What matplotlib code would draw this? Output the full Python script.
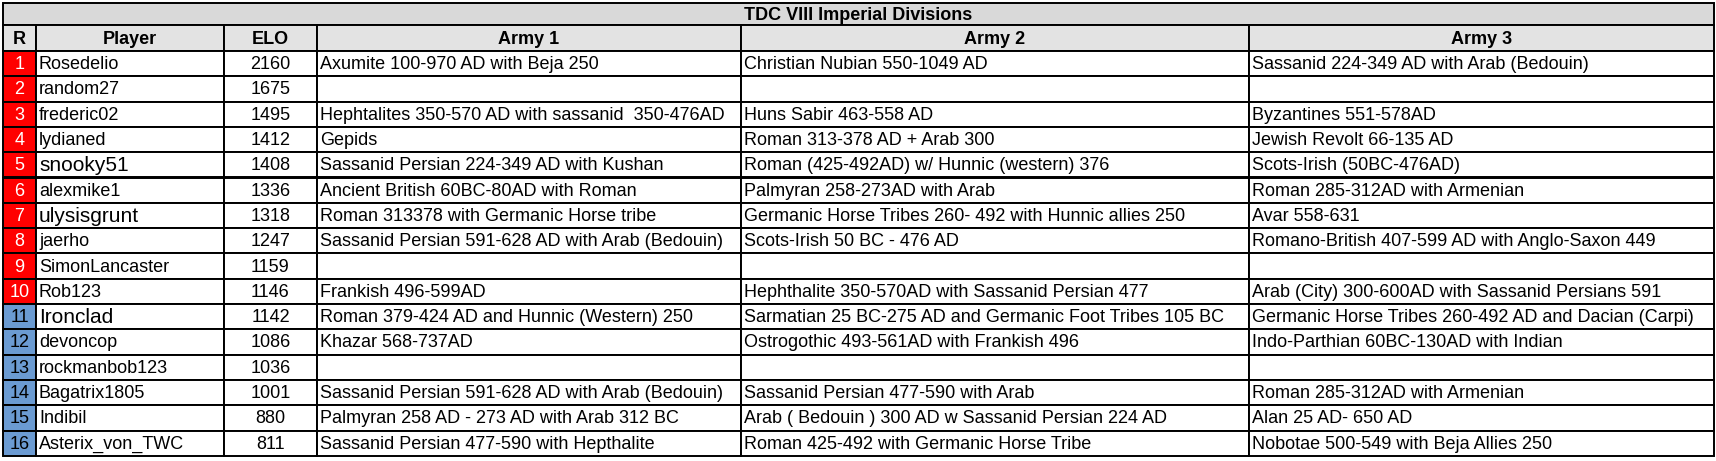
import matplotlib.pyplot as plt
from matplotlib.patches import Rectangle

plt.rcParams["font.family"] = "Liberation Sans"

title = "TDC VIII Imperial Divisions"
headers = ["R", "Player", "ELO", "Army 1", "Army 2", "Army 3"]
ranks = list(range(1, 17))
players = ["Rosedelio", "random27", "frederic02", "lydianed", "snooky51", "alexmike1",
           "ulysisgrunt", "jaerho", "SimonLancaster", "Rob123", "Ironclad", "devoncop",
           "rockmanbob123", "Bagatrix1805", "Indibil", "Asterix_von_TWC"]
elo = [2160, 1675, 1495, 1412, 1408, 1336, 1318, 1247, 1159, 1146, 1142, 1086,
       1036, 1001, 880, 811]
army1 = ["Axumite 100-970 AD with Beja 250", "",
         "Hephtalites 350-570 AD with sassanid  350-476AD", "Gepids",
         "Sassanid Persian 224-349 AD with Kushan", "Ancient British 60BC-80AD with Roman",
         "Roman 313378 with Germanic Horse tribe", "Sassanid Persian 591-628 AD with Arab (Bedouin)",
         "", "Frankish 496-599AD", "Roman 379-424 AD and Hunnic (Western) 250",
         "Khazar 568-737AD", "", "Sassanid Persian 591-628 AD with Arab (Bedouin)",
         "Palmyran 258 AD - 273 AD with Arab 312 BC", "Sassanid Persian 477-590 with Hepthalite"]
army2 = ["Christian Nubian 550-1049 AD", "", "Huns Sabir 463-558 AD", "Roman 313-378 AD + Arab 300",
         "Roman (425-492AD) w/ Hunnic (western) 376", "Palmyran 258-273AD with Arab",
         "Germanic Horse Tribes 260- 492 with Hunnic allies 250", "Scots-Irish 50 BC - 476 AD",
         "", "Hephthalite 350-570AD with Sassanid Persian 477",
         "Sarmatian 25 BC-275 AD and Germanic Foot Tribes 105 BC",
         "Ostrogothic 493-561AD with Frankish 496", "", "Sassanid Persian 477-590 with Arab",
         "Arab ( Bedouin ) 300 AD w Sassanid Persian 224 AD", "Roman 425-492 with Germanic Horse Tribe"]
army3 = ["Sassanid 224-349 AD with Arab (Bedouin)", "", "Byzantines 551-578AD",
         "Jewish Revolt 66-135 AD", "Scots-Irish (50BC-476AD)", "Roman 285-312AD with Armenian",
         "Avar 558-631", "Romano-British 407-599 AD with Anglo-Saxon 449", "",
         "Arab (City) 300-600AD with Sassanid Persians 591",
         "Germanic Horse Tribes 260-492 AD and Dacian (Carpi)",
         "Indo-Parthian 60BC-130AD with Indian", "", "Roman 285-312AD with Armenian",
         "Alan 25 AD- 650 AD", "Nobotae 500-549 with Beja Allies 250"]
big_names = {"snooky51", "ulysisgrunt", "Ironclad"}

cols = [3, 36, 224, 317, 741, 1249, 1714]
top, title_h, head_h, row_h = 3, 22, 26, 25.3
fs = 13

fig = plt.figure(figsize=(17.16, 4.61), dpi=100)
ax = fig.add_axes([0, 0, 1, 1])
ax.set_xlim(0, 1716)
ax.set_ylim(461, 0)
ax.axis("off")

lw = 1.4
# title row
ax.add_patch(Rectangle((cols[0], top), cols[-1] - cols[0], title_h, fc="#d9d9d9", ec="black", lw=lw))
ax.text((cols[0] + cols[-1]) / 2, top + title_h / 2 + 1, title, ha="center", va="center",
        fontsize=fs, fontweight="bold")
# header row
y = top + title_h
for i, h in enumerate(headers):
    ax.add_patch(Rectangle((cols[i], y), cols[i + 1] - cols[i], head_h, fc="#e3e3e3", ec="black", lw=lw))
    ax.text((cols[i] + cols[i + 1]) / 2, y + head_h / 2 + 1, h, ha="center", va="center",
            fontsize=fs, fontweight="bold")
y += head_h
for k in range(len(ranks)):
    yc = y + row_h / 2 + 1
    rank_col = "#ff0000" if ranks[k] <= 10 else "#6b9bd2"
    vals = [str(ranks[k]), players[k], str(elo[k]), army1[k], army2[k], army3[k]]
    for i, v in enumerate(vals):
        fc = rank_col if i == 0 else "white"
        ax.add_patch(Rectangle((cols[i], y), cols[i + 1] - cols[i], row_h, fc=fc, ec="black", lw=lw))
        if i == 0:
            ax.text((cols[0] + cols[1]) / 2, yc, v, ha="center", va="center", fontsize=fs,
                    color="white" if ranks[k] <= 10 else "black")
        elif i == 2:
            ax.text((cols[2] + cols[3]) / 2, yc, v, ha="center", va="center", fontsize=fs)
        else:
            f = 15 if (i == 1 and v in big_names) else fs
            ax.text(cols[i] + 3, yc, v, ha="left", va="center", fontsize=f)
    y += row_h

fig.savefig("out.png", dpi=100, facecolor="white")
